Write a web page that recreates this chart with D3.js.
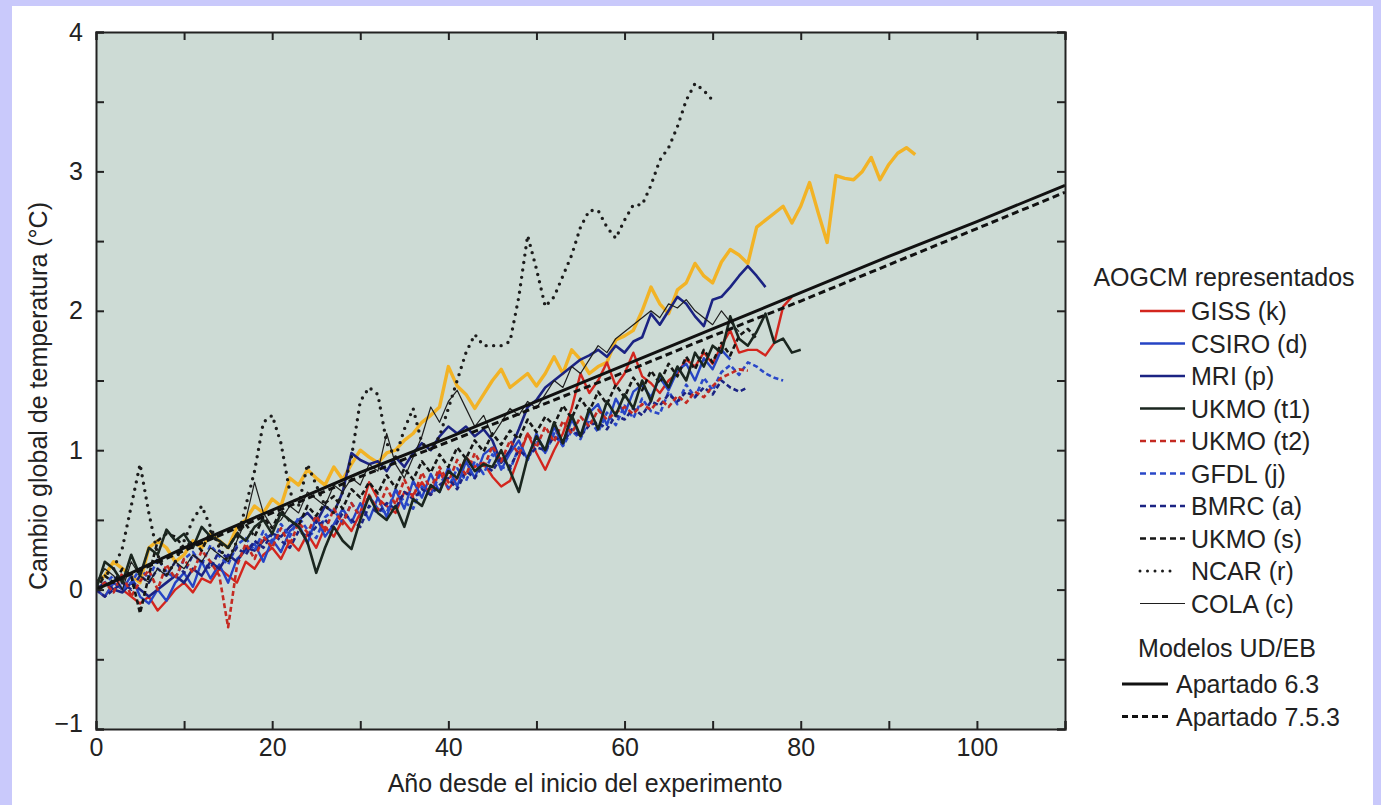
<!DOCTYPE html>
<html><head><meta charset="utf-8">
<script src="https://cdn.jsdelivr.net/npm/d3@7"></script>
<style>body{margin:0;background:#fff;}svg{display:block;font-family:"Liberation Sans",Arial,sans-serif;}</style>
</head><body><svg id="c" width="1381" height="805"></svg>
<script>
// ---------- data ----------
const xTickValues = [0,10,20,30,40,50,60,70,80,90,100,110];
const xTickLabels = ["0","","20","","40","","60","","80","","100",""];
const yTickValues = [-1,-0.5,0,0.5,1,1.5,2,2.5,3,3.5,4];
const yTickLabels = ["\u22121","","0","","1","","2","","3","","4"];
const legendTitle1 = "AOGCM representados";
const legendTitle2 = "Modelos UD/EB";
const xTitle = "Año desde el inicio del experimento";
const yTitle = "Cambio global de temperatura (°C)";

const giss = [0.0,-0.05,0.05,0.0,-0.05,-0.1,-0.05,-0.15,-0.08,0.0,0.05,-0.02,0.08,0.05,0.15,0.1,0.05,0.2,0.15,0.25,0.3,0.22,0.35,0.28,0.4,0.3,0.45,0.38,0.5,0.42,0.55,0.77,0.65,0.6,0.55,0.7,0.68,0.77,0.68,0.85,0.72,0.8,0.95,0.88,0.91,0.81,0.74,0.78,0.95,1.12,0.98,0.86,1.0,1.12,1.3,1.55,1.41,1.5,1.63,1.46,1.55,1.7,1.53,1.48,1.41,1.5,1.55,1.65,1.6,1.7,1.62,1.75,1.86,1.7,1.72,1.72,1.68,1.77,2.03,2.1];
const csiro = [0.0,-0.05,0.05,0.0,0.1,-0.05,-0.1,0.0,-0.08,0.05,0.12,0.02,0.2,0.08,0.18,0.05,0.22,0.28,0.33,0.2,0.36,0.27,0.42,0.47,0.33,0.52,0.38,0.47,0.58,0.48,0.62,0.5,0.66,0.52,0.72,0.58,0.78,0.66,0.83,0.7,0.88,0.74,0.92,0.8,0.97,1.02,0.86,0.98,1.07,0.93,1.12,0.98,1.17,1.03,1.22,1.1,1.27,1.33,1.18,1.37,1.26,1.42,1.47,1.38,1.52,1.43,1.57,1.62,1.5,1.66,1.58,1.72,1.65];
const mri = [0.0,0.05,0.0,-0.02,0.05,0.0,-0.05,0.0,0.05,0.1,0.05,0.15,0.1,0.2,0.15,0.25,0.2,0.3,0.28,0.35,0.4,0.38,0.45,0.5,0.55,0.48,0.6,0.55,0.7,0.98,0.93,0.9,0.92,0.85,0.95,0.88,0.98,1.05,1.0,1.1,1.17,1.12,1.17,1.1,1.15,1.07,0.91,1.0,1.15,1.31,1.36,1.45,1.5,1.55,1.6,1.65,1.68,1.72,1.67,1.75,1.7,1.78,1.81,1.98,1.9,2.0,2.1,2.05,1.96,1.89,2.08,2.1,2.17,2.25,2.32,2.25,2.17];
const ukmoT1 = [0.0,0.2,0.15,0.05,0.25,0.1,0.3,0.25,0.43,0.35,0.4,0.3,0.45,0.38,0.35,0.3,0.4,0.35,0.45,0.5,0.4,0.55,0.5,0.45,0.34,0.12,0.3,0.45,0.35,0.29,0.5,0.67,0.55,0.5,0.6,0.45,0.65,0.6,0.75,0.7,0.85,0.8,0.95,0.85,0.9,0.88,1.0,0.85,0.7,0.95,1.1,1.0,1.2,1.05,1.25,1.1,1.3,1.15,1.35,1.25,1.4,1.3,1.5,1.35,1.55,1.45,1.6,1.5,1.7,1.6,1.75,1.7,1.96,1.8,1.75,1.85,1.98,1.77,1.8,1.7,1.72];
const ukmoT2 = [0.0,0.05,-0.02,0.12,-0.05,0.06,0.14,0.0,0.18,0.08,0.22,0.12,0.28,0.2,0.1,-0.27,0.17,0.33,0.22,0.38,0.3,0.44,0.32,0.48,0.41,0.53,0.42,0.58,0.47,0.62,0.52,0.68,0.57,0.73,0.61,0.79,0.66,0.84,0.72,0.88,0.77,0.93,0.82,0.98,0.87,1.03,0.92,1.07,0.97,1.12,1.02,1.17,1.06,1.21,1.12,1.24,1.17,1.29,1.22,1.27,1.31,1.26,1.33,1.29,1.37,1.31,1.39,1.34,1.42,1.38,1.46,1.52,1.55,1.58,1.57];
const gfdl = [0.0,0.05,0.1,0.0,0.05,0.15,0.08,0.22,0.13,0.08,0.22,0.27,0.18,0.32,0.24,0.18,0.32,0.37,0.28,0.42,0.33,0.47,0.38,0.52,0.43,0.37,0.52,0.57,0.48,0.62,0.53,0.67,0.58,0.55,0.72,0.63,0.58,0.74,0.68,0.82,0.73,0.87,0.78,0.92,0.83,0.97,0.88,0.86,1.02,0.93,1.07,0.98,1.12,1.03,1.14,1.08,1.22,1.13,1.27,1.18,1.32,1.23,1.37,1.28,1.26,1.42,1.33,1.47,1.38,1.52,1.43,1.56,1.61,1.54,1.63,1.6,1.55,1.52,1.5];
const bmrc = [0.0,-0.05,0.0,0.05,0.0,0.1,0.05,0.15,0.1,0.2,0.12,0.25,0.2,0.15,0.28,0.22,0.3,0.25,0.35,0.3,0.4,0.35,0.3,0.42,0.38,0.45,0.5,0.44,0.55,0.5,0.45,0.6,0.55,0.62,0.58,0.7,0.65,0.72,0.68,0.75,0.8,0.72,0.85,0.8,0.9,0.85,0.95,0.88,1.0,0.95,1.02,1.0,1.1,1.05,1.15,1.1,1.18,1.2,1.15,1.25,1.22,1.3,1.25,1.35,1.32,1.4,1.35,1.42,1.38,1.45,1.4,1.5,1.45,1.42,1.45];
const ukmoS = [0.0,0.1,0.05,0.15,0.1,-0.17,0.1,0.35,0.4,0.38,0.3,0.35,0.28,0.42,0.33,0.3,0.4,0.47,0.38,0.52,0.44,0.57,0.49,0.46,0.6,0.53,0.62,0.67,0.58,0.72,0.66,0.77,0.69,0.82,0.73,0.87,0.79,0.92,0.84,0.97,0.88,1.02,0.94,1.07,0.99,1.12,1.04,1.14,1.08,1.22,1.13,1.24,1.18,1.32,1.23,1.37,1.28,1.42,1.33,1.47,1.38,1.52,1.43,1.57,1.48,1.62,1.53,1.67,1.58,1.72,1.63,1.77,1.68,1.82,1.87,1.8];
const ncar = [0.05,0.1,0.15,0.3,0.6,0.9,0.55,0.25,0.1,0.2,0.35,0.5,0.6,0.45,0.3,0.2,0.35,0.6,0.85,1.2,1.25,1.05,0.7,0.6,0.9,0.75,0.6,0.55,0.7,0.95,1.35,1.45,1.4,1.05,0.95,1.15,1.3,1.05,1.0,1.1,1.3,1.5,1.7,1.83,1.75,1.75,1.75,1.78,2.1,2.54,2.3,2.03,2.1,2.25,2.4,2.6,2.72,2.72,2.6,2.52,2.65,2.76,2.76,2.9,3.08,3.17,3.32,3.51,3.63,3.58,3.51];
const cola = [0.05,0.15,0.1,0.0,0.2,0.1,0.05,0.15,0.1,0.2,0.15,0.25,0.2,0.3,0.25,0.2,0.35,0.5,0.77,0.55,0.45,0.5,0.6,0.55,0.7,0.65,0.6,0.75,0.7,0.8,0.75,0.9,0.85,1.12,0.9,0.8,0.95,1.1,1.31,1.2,1.35,1.43,1.3,1.17,1.25,1.1,1.2,1.3,1.25,1.35,1.3,1.4,1.5,1.45,1.6,1.55,1.65,1.75,1.7,1.8,1.85,1.9,1.95,2.0,1.95,2.05,2.02,2.08,2.0,1.95,1.9,2.0,1.92,1.85];
const orange = [0.05,0.1,0.2,0.15,0.1,0.05,0.3,0.35,0.3,0.2,0.25,0.35,0.3,0.4,0.35,0.3,0.45,0.5,0.6,0.55,0.65,0.6,0.8,0.75,0.86,0.8,0.75,0.88,0.79,0.9,1.0,0.95,0.91,0.98,1.0,1.07,1.12,1.2,1.25,1.31,1.6,1.46,1.4,1.3,1.4,1.5,1.58,1.45,1.5,1.55,1.46,1.55,1.67,1.55,1.72,1.65,1.55,1.6,1.63,1.79,1.82,1.86,2.0,2.17,2.05,1.98,2.15,2.2,2.34,2.25,2.2,2.35,2.44,2.4,2.34,2.6,2.65,2.7,2.75,2.63,2.75,2.92,2.7,2.49,2.97,2.95,2.94,3.0,3.1,2.94,3.05,3.13,3.17,3.12];
const udebYears = [0,10,20,30,40,50,60,70,80,90,100,110];
const apartado63 = [0,0.3,0.57,0.84,1.09,1.35,1.61,1.87,2.13,2.39,2.64,2.9];
const apartado753 = [0,0.28,0.55,0.81,1.06,1.31,1.56,1.82,2.07,2.33,2.59,2.85];

// ---------- styling (separate from data) ----------
const models = [
  {name:"GISS (k)",  vals:giss,   color:"#d3261e", w:2.4, dash:null},
  {name:"CSIRO (d)", vals:csiro,  color:"#2644c4", w:2.4, dash:null},
  {name:"MRI (p)",   vals:mri,    color:"#1b2383", w:2.6, dash:null},
  {name:"UKMO (t1)", vals:ukmoT1, color:"#1a261f", w:2.6, dash:null},
  {name:"UKMO (t2)", vals:ukmoT2, color:"#c42a22", w:2.6, dash:"5,3"},
  {name:"GFDL (j)",  vals:gfdl,   color:"#2a48c8", w:2.6, dash:"5,3"},
  {name:"BMRC (a)",  vals:bmrc,   color:"#1b2383", w:2.6, dash:"5,3"},
  {name:"UKMO (s)",  vals:ukmoS,  color:"#151515", w:2.6, dash:"5,3"},
  {name:"NCAR (r)",  vals:ncar,   color:"#1c1c1c", w:3.4, dash:"0,7.5", cap:"round"},
  {name:"COLA (c)",  vals:cola,   color:"#1e1e1e", w:1.2, dash:null}
];

const svg = d3.select("#c");
const W = 1381, H = 805;
svg.append("rect").attr("width",W).attr("height",H).attr("fill","#c9c9fb");
svg.append("rect").attr("x",12).attr("y",6).attr("width",W-12-8).attr("height",H-6).attr("fill","#ffffff");

const x = d3.scaleLinear().domain([0,110]).range([96,1065]);
const y = d3.scaleLinear().domain([-1,4]).range([729,32]);

svg.append("rect").attr("x",x(0)).attr("y",y(4)).attr("width",x(110)-x(0)).attr("height",y(-1)-y(4)).attr("fill","#cddbd5");
svg.append("clipPath").attr("id","clip").append("rect").attr("x",x(0)).attr("y",y(4)).attr("width",x(110)-x(0)).attr("height",y(-1)-y(4));

const line = d3.line().x((d,i)=>x(i)).y(d=>y(d));
const lineXY = d3.line().x(d=>x(d[0])).y(d=>y(d[1]));
const g = svg.append("g").attr("clip-path","url(#clip)");

function drawSeries(vals,c,w,dash,cap){
  const p = g.append("path").datum(vals).attr("d",line).attr("fill","none")
    .attr("stroke",c).attr("stroke-width",w).attr("stroke-linejoin","round");
  if(dash) p.attr("stroke-dasharray",dash);
  if(cap) p.attr("stroke-linecap",cap);
}
drawSeries(orange,"#f2b326",3.4,null);
const order = [0,1,2,5,6,4,7,9,3,8];
order.forEach(i=>{const m=models[i]; drawSeries(m.vals,m.color,m.w,m.dash,m.cap);});
g.append("path").datum(udebYears.map((t,i)=>[t,apartado753[i]])).attr("d",lineXY).attr("fill","none").attr("stroke","#111").attr("stroke-width",3).attr("stroke-dasharray","7,4");
g.append("path").datum(udebYears.map((t,i)=>[t,apartado63[i]])).attr("d",lineXY).attr("fill","none").attr("stroke","#111").attr("stroke-width",3);

// axes
const fs = "25px";
const ax = svg.append("g").attr("transform",`translate(0,${y(-1)})`)
  .call(d3.axisBottom(x).tickValues(xTickValues).tickFormat((d,i)=>xTickLabels[i]).tickSize(-8).tickPadding(9));
const ay = svg.append("g").attr("transform",`translate(${x(0)},0)`)
  .call(d3.axisLeft(y).tickValues(yTickValues).tickFormat((d,i)=>yTickLabels[i]).tickSize(-8).tickPadding(13));
const at = svg.append("g").attr("transform",`translate(0,${y(4)})`)
  .call(d3.axisTop(x).tickValues(xTickValues).tickFormat("").tickSize(-8));
const ar = svg.append("g").attr("transform",`translate(${x(110)},0)`)
  .call(d3.axisRight(y).tickValues(yTickValues).tickFormat("").tickSize(-8));
[ax,ay,at,ar].forEach(a=>{
  a.select(".domain").attr("stroke","#222").attr("stroke-width",2);
  a.selectAll(".tick line").attr("stroke","#222").attr("stroke-width",2);
  a.selectAll(".tick text").attr("font-size",fs).attr("fill","#222").attr("font-family","Liberation Sans, Arial, sans-serif");
});
ay.selectAll(".tick text").filter(d=>d===-1).attr("dy","0.1em");

svg.append("text").attr("x",585).attr("y",792).attr("text-anchor","middle").attr("font-size","25px").attr("fill","#222").text(xTitle);
svg.append("text").attr("transform","translate(47,396) rotate(-90)").attr("text-anchor","middle").attr("font-size","25px").attr("fill","#222").text(yTitle);

// legend
const lg = svg.append("g");
lg.append("text").attr("x",1224).attr("y",286).attr("text-anchor","middle").attr("font-size","25px").attr("fill","#222").text(legendTitle1);
models.forEach((m,i)=>{
  const yy = 311 + i*32.5;
  const isNcar = m.name.startsWith("NCAR");
  const l = lg.append("line").attr("x1",1140).attr("x2",isNcar?1172:1185).attr("y1",yy).attr("y2",yy)
    .attr("stroke",m.color).attr("stroke-width",m.w===1.2?1.2:2.6);
  if(m.dash) l.attr("stroke-dasharray",isNcar?"0,7.5":"6,4");
  if(m.cap) l.attr("stroke-linecap",m.cap).attr("stroke-width",3);
  lg.append("text").attr("x",1191).attr("y",yy+9).attr("font-size","25px").attr("fill","#222").text(m.name);
});
lg.append("text").attr("x",1227).attr("y",657).attr("text-anchor","middle").attr("font-size","25px").attr("fill","#222").text(legendTitle2);
const udeb = [{name:"Apartado 6.3",dash:null},{name:"Apartado 7.5.3",dash:"6,4"}];
udeb.forEach((u,i)=>{
  const yy = 684 + i*32.5;
  const l = lg.append("line").attr("x1",1122).attr("x2",1168).attr("y1",yy).attr("y2",yy).attr("stroke","#111").attr("stroke-width",3.2);
  if(u.dash) l.attr("stroke-dasharray",u.dash);
  lg.append("text").attr("x",1176).attr("y",yy+9).attr("font-size","25px").attr("fill","#222").text(u.name);
});
</script></body></html>
